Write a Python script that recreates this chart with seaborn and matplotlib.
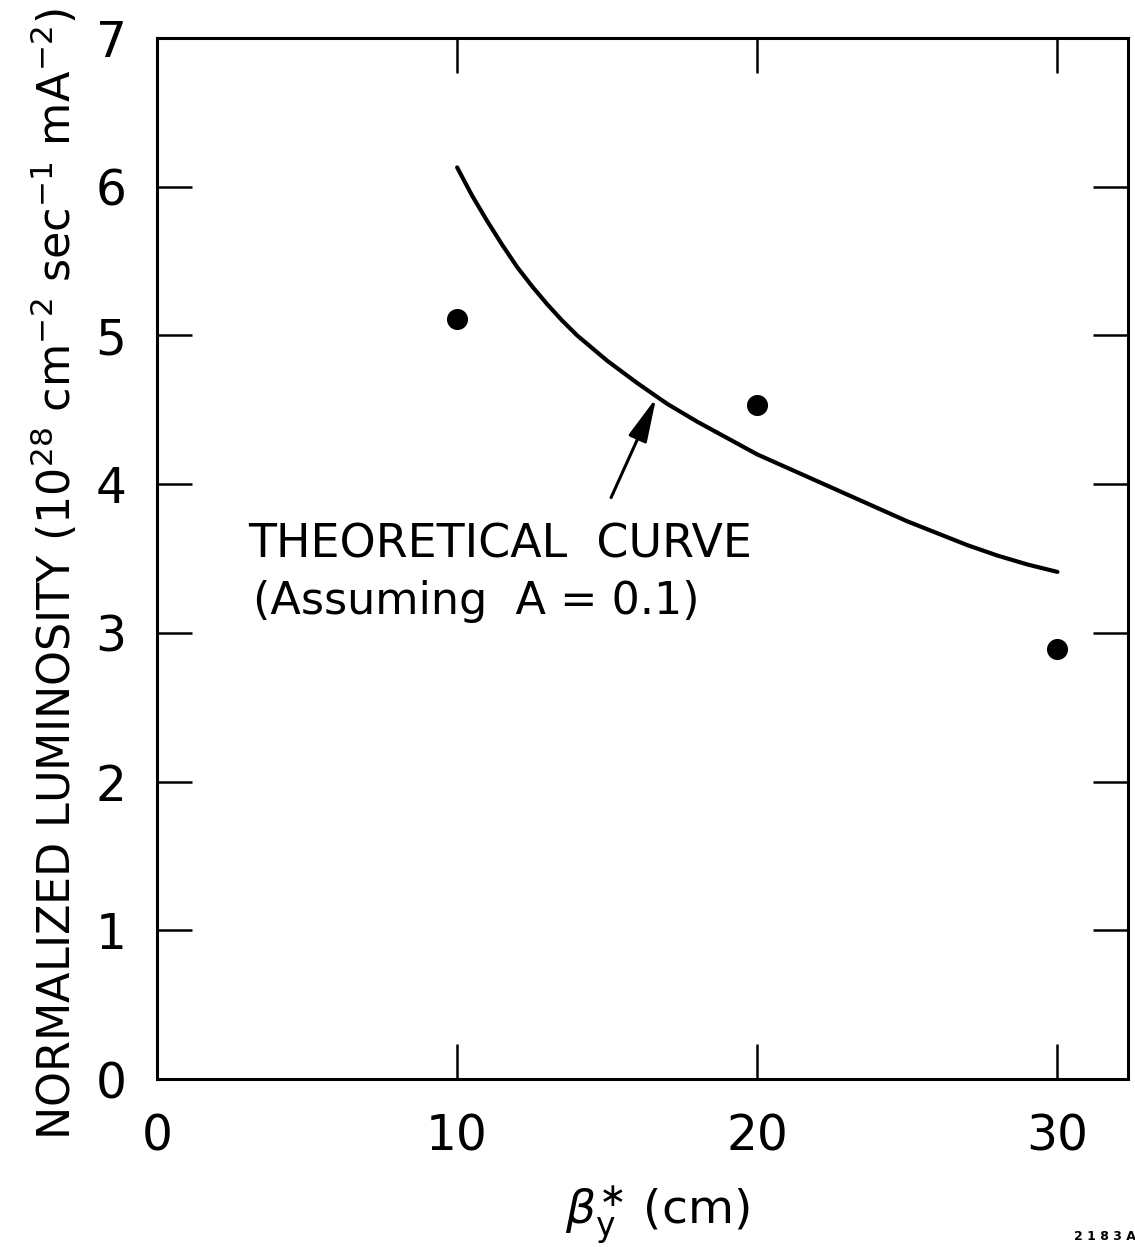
import matplotlib
matplotlib.use("Agg")
import matplotlib.pyplot as plt
import seaborn as sns
import pandas as pd

# Measured luminosity at each beta*_y setting
beta_meas = [10, 20, 30]
lum_meas = [5.11, 4.53, 2.89]

# Theoretical curve (A = 0.1)
beta_theory = [10, 10.5, 11, 11.5, 12, 12.5, 13, 13.5, 14, 15, 16, 17, 18, 19, 20,
               21, 22, 23, 24, 25, 26, 27, 28, 29, 30]
lum_theory = [6.13, 5.94, 5.77, 5.61, 5.46, 5.33, 5.21, 5.10, 5.00, 4.83, 4.68,
              4.54, 4.42, 4.31, 4.20, 4.11, 4.02, 3.93, 3.84, 3.75, 3.67, 3.59,
              3.52, 3.46, 3.41]

x_ticks = [0, 10, 20, 30]
y_ticks = [0, 1, 2, 3, 4, 5, 6, 7]

sns.set_theme(style="ticks")
plt.rcParams["font.family"] = ["DejaVu Sans"]
plt.rcParams["mathtext.fontset"] = "dejavusans"
plt.rcParams["text.color"] = "black"
plt.rcParams["axes.labelcolor"] = "black"
plt.rcParams["xtick.color"] = "black"
plt.rcParams["ytick.color"] = "black"

fig = plt.figure(figsize=(11.35, 12.47), dpi=100)
ax = fig.add_axes([0.1383, 0.1347, 0.8555, 0.8348])

theory = pd.DataFrame({"beta": beta_theory, "lum": lum_theory})
meas = pd.DataFrame({"beta": beta_meas, "lum": lum_meas})

sns.lineplot(data=theory, x="beta", y="lum", ax=ax, color="black",
             linewidth=3.0, sort=False, solid_joinstyle="round",
             solid_capstyle="round")
sns.scatterplot(data=meas, x="beta", y="lum", ax=ax, color="black",
                s=230, edgecolor="black", linewidth=0, zorder=5)

ax.set_xlim(0, 32.35)
ax.set_ylim(0, 7.0)

# Inward ticks on all four sides
ax.set_xticks(x_ticks)
ax.set_yticks(y_ticks)
ax.tick_params(axis="both", direction="in", length=25, width=1.8,
               colors="black", labelsize=35, top=True, right=True)
ax.tick_params(axis="y", pad=22)
ax.tick_params(axis="x", pad=24)
for side in ["left", "right", "top", "bottom"]:
    ax.spines[side].set_visible(True)
    ax.spines[side].set_linewidth(2.2)
    ax.spines[side].set_color("black")

ax.set_xlabel(r"$\beta^{\ast}_{\mathrm{y}}$ (cm)", fontsize=34)
ax.set_ylabel(r"NORMALIZED LUMINOSITY (10$^{28}$ cm$^{-2}$ sec$^{-1}$ mA$^{-2}$)",
              fontsize=32)
ax.xaxis.set_label_coords(0.515, -0.100)
ax.yaxis.set_label_coords(-0.079, 0.485)

ax.text(3.03, 3.51, "THEORETICAL  CURVE", fontsize=33, ha="left",
        va="baseline")
ax.text(3.2, 3.13, "(Assuming  A = 0.1)", fontsize=32, ha="left",
        va="baseline")
ax.annotate("", xy=(16.63, 4.58), xytext=(15.13, 3.91),
            arrowprops=dict(arrowstyle="-|>,head_length=0.9,head_width=0.2",
                            mutation_scale=30, color="black", lw=2.2,
                            shrinkA=0, shrinkB=0))

fig.text(0.946, 0.003, "2 1 8 3 A", fontsize=9, fontweight="bold",
         ha="left", va="bottom")

fig.savefig("out.png", dpi=100)
